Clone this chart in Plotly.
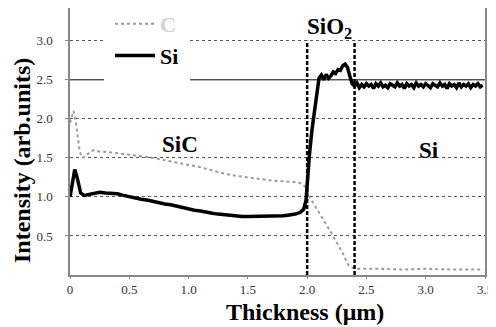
import plotly.graph_objects as go

# ---- data ----
x_si = [0.00, 0.02, 0.04, 0.06, 0.09, 0.12, 0.15, 0.20, 0.25, 0.30, 0.35, 0.40, 0.45, 0.50,
        0.55, 0.60, 0.65, 0.70, 0.75, 0.80, 0.85, 0.90, 0.95, 1.00, 1.05, 1.10, 1.15, 1.20,
        1.25, 1.30, 1.35, 1.40, 1.45, 1.50, 1.55, 1.60, 1.65, 1.70, 1.75, 1.80, 1.85, 1.90,
        1.94, 1.97, 1.99, 2.00, 2.02, 2.04, 2.06, 2.08, 2.10, 2.12, 2.14, 2.16, 2.18, 2.20,
        2.22, 2.24, 2.26, 2.28, 2.30, 2.32, 2.34, 2.36, 2.38, 2.40,
        2.42, 2.44, 2.46, 2.48, 2.50, 2.52, 2.54, 2.56, 2.58, 2.60, 2.62, 2.64, 2.66, 2.68,
        2.70, 2.72, 2.74, 2.76, 2.78, 2.80, 2.82, 2.84, 2.86, 2.88, 2.90, 2.92, 2.94, 2.96,
        2.98, 3.00, 3.02, 3.04, 3.06, 3.08, 3.10, 3.12, 3.14, 3.16, 3.18, 3.20, 3.22, 3.24,
        3.26, 3.28, 3.30, 3.32, 3.34, 3.36, 3.38, 3.40, 3.42, 3.44, 3.46, 3.48]
y_si = [1.00, 1.20, 1.35, 1.25, 1.05, 1.02, 1.03, 1.05, 1.06, 1.05, 1.05, 1.04, 1.02, 1.00,
        0.99, 0.97, 0.96, 0.94, 0.93, 0.91, 0.90, 0.88, 0.87, 0.85, 0.83, 0.82, 0.80, 0.79,
        0.78, 0.77, 0.76, 0.76, 0.75, 0.75, 0.75, 0.75, 0.75, 0.75, 0.76, 0.76, 0.77, 0.78,
        0.80, 0.84, 0.95, 1.20, 1.55, 1.85, 2.10, 2.35, 2.52, 2.56, 2.50, 2.57, 2.52, 2.55,
        2.60, 2.58, 2.63, 2.62, 2.68, 2.70, 2.66, 2.55, 2.45, 2.42,
        2.46, 2.40, 2.44, 2.41, 2.45, 2.42, 2.44, 2.39, 2.45, 2.42, 2.46, 2.41, 2.43, 2.40,
        2.45, 2.43, 2.41, 2.46, 2.42, 2.44, 2.39, 2.45, 2.42, 2.44, 2.40, 2.46, 2.42, 2.44,
        2.41, 2.45, 2.42, 2.40, 2.45, 2.43, 2.41, 2.46, 2.42, 2.44, 2.39, 2.45, 2.42, 2.44,
        2.40, 2.46, 2.41, 2.44, 2.42, 2.45, 2.40, 2.44, 2.42, 2.45, 2.41, 2.43]

x_c = [0.00, 0.02, 0.03, 0.05, 0.08, 0.10, 0.13, 0.17, 0.20, 0.25, 0.30, 0.35, 0.40, 0.50,
       0.60, 0.70, 0.80, 0.90, 1.00, 1.10, 1.20, 1.30, 1.40, 1.50, 1.60, 1.70, 1.80, 1.90,
       1.96, 2.00, 2.02, 2.05, 2.10, 2.20, 2.30, 2.35, 2.40, 2.60, 2.80, 3.00, 3.20, 3.48]
y_c = [1.95, 2.05, 2.10, 1.95, 1.60, 1.50, 1.52, 1.58, 1.60, 1.58, 1.58, 1.57, 1.56, 1.54,
       1.52, 1.50, 1.47, 1.44, 1.41, 1.38, 1.34, 1.30, 1.27, 1.25, 1.23, 1.21, 1.20, 1.19,
       1.17, 1.10, 1.00, 0.92, 0.80, 0.55, 0.28, 0.12, 0.08, 0.08, 0.07, 0.08, 0.07, 0.07]

x_ticks = [0, 0.5, 1.0, 1.5, 2.0, 2.5, 3.0, 3.5]
x_tick_labels = ["0", "0.5", "1.0", "1.5", "2.0", "2.5", "3.0", "3.5"]
y_ticks = [0.5, 1.0, 1.5, 2.0, 2.5, 3.0]
y_tick_labels = ["0.5", "1.0", "1.5", "2.0", "2.5", "3.0"]

boundaries = [2.0, 2.4]
boundary_top = 3.0
solid_grid_value = 2.5

region_names = ["SiC", "SiO<sub>2</sub>", "Si"]
region_x = [0.93, 2.19, 3.03]
region_y = [1.67, 3.17, 1.60]

FONT = "Liberation Serif, Times New Roman, DejaVu Serif, serif"

fig = go.Figure()
fig.add_trace(go.Scatter(
    x=x_c, y=y_c, mode="lines", name="<span style='color:#d0d0d0'><b>C</b></span>",
    legendgroup="c",
    line=dict(color="#9c9c9c", width=2, dash="dot")))
fig.add_trace(go.Scatter(
    x=x_si, y=y_si, mode="lines", name="<b>Si</b>", legendgroup="si",
    line=dict(color="black", width=3.5)))

# boundary dashed lines
for b in boundaries:
    fig.add_shape(type="line", xref="x", yref="y", x0=b, x1=b, y0=0, y1=boundary_top,
                  line=dict(color="black", width=2.5, dash="4px,2px"), layer="above")
# solid grid line
fig.add_shape(type="line", xref="paper", yref="y", x0=0, x1=1,
              y0=solid_grid_value, y1=solid_grid_value,
              line=dict(color="black", width=1), layer="below")

for name, rx, ry in zip(region_names, region_x, region_y):
    fig.add_annotation(x=rx, y=ry, xref="x", yref="y", text="<b>%s</b>" % name,
                       showarrow=False, font=dict(family=FONT, size=23, color="black"))

fig.add_annotation(x=0.566, y=-0.139, xref="paper", yref="paper",
                   xanchor="center", yanchor="middle",
                   text="<b>Thickness (μm)</b>", showarrow=False,
                   font=dict(family=FONT, size=24, color="black"))
fig.add_annotation(x=-0.116, y=0.43, xref="paper", yref="paper",
                   xanchor="center", yanchor="middle",
                   text="<b>Intensity (arb.units)</b>", showarrow=False, textangle=-90,
                   font=dict(family=FONT, size=24, color="black"))

# the page body has an 8px margin, so the figure is sized to end at the window edge
fig.update_layout(
    width=488, height=319,
    margin=dict(l=62, r=11, t=0, b=52, autoexpand=False),
    paper_bgcolor="white", plot_bgcolor="white",
    font=dict(family=FONT, color="#333"),
    showlegend=True,
    legend=dict(x=0.082, y=1.041, xanchor="left", yanchor="top",
                bgcolor="white", bordercolor="white", borderwidth=6,
                itemwidth=40, tracegroupgap=3,
                font=dict(family=FONT, size=22, color="black"),
                traceorder="normal"),
    xaxis=dict(range=[0, 3.5], tickvals=x_ticks, ticktext=x_tick_labels,
               showgrid=False, zeroline=False, showline=True, mirror=True,
               linecolor="#888", linewidth=1.5, ticks="outside", ticklen=2,
               tickcolor="#888", ticklabelstandoff=0,
               tickfont=dict(family=FONT, size=13, color="#333")),
    yaxis=dict(range=[0, 3.42], tickvals=y_ticks, ticktext=y_tick_labels,
               showgrid=True, gridcolor="#555", griddash="dot", gridwidth=1,
               zeroline=False, showline=True, mirror=True,
               linecolor="#888", linewidth=1.5, ticks="outside", ticklen=3,
               tickcolor="#888", ticklabelstandoff=10,
               tickfont=dict(family=FONT, size=13, color="#333")),
)

fig.write_html("out.html")
